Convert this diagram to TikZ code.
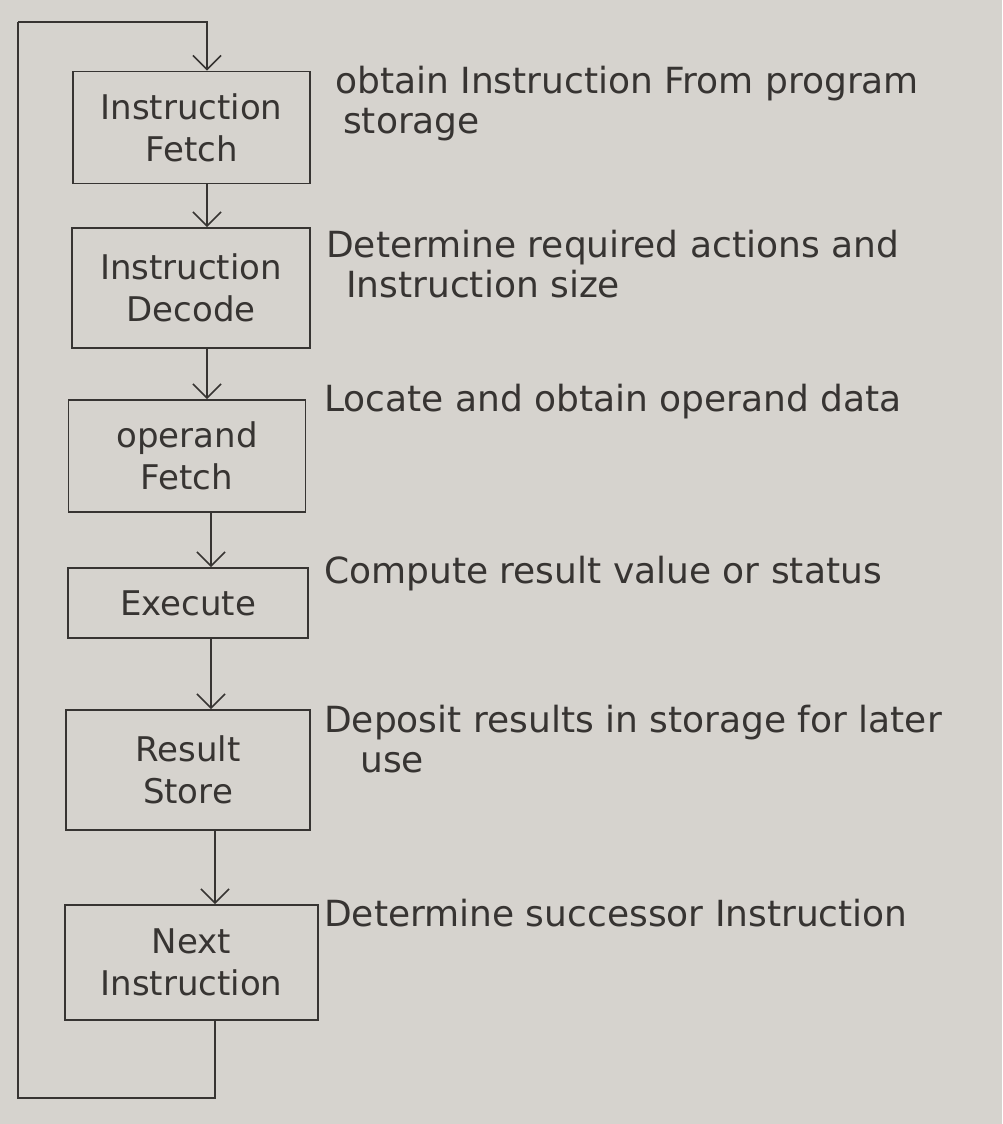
\documentclass[tikz,border=0pt]{standalone}
\usepackage{fontspec}
\setmainfont{DejaVu Sans}
\usetikzlibrary{arrows.meta}
\definecolor{paper}{RGB}{214,211,206}
\definecolor{ink}{RGB}{55,52,50}
\begin{document}
\begin{tikzpicture}[x=1pt,y=-1pt,
  box/.style={draw=ink, line width=1.8pt, align=center, text=ink, inner sep=0pt,
    font=\fontsize{34}{42}\selectfont},
  lbl/.style={anchor=west, align=left, text=ink, inner sep=0pt,
    font=\fontsize{36}{40}\selectfont},
  conn/.style={draw=ink, line width=1.8pt, -{Straight Barb[length=14pt,width=28pt,line width=1.6pt]}},
  wire/.style={draw=ink, line width=1.8pt}]
\fill[paper] (0,0) rectangle (1002,1124);
\useasboundingbox (0,0) rectangle (1002,1124);
% boxes
\node[box, minimum width=237pt, minimum height=112pt] (b1) at (191.5,127.5) {Instruction\\Fetch};
\node[box, minimum width=238pt, minimum height=120pt] (b2) at (191,288) {Instruction\\Decode};
\node[box, minimum width=237pt, minimum height=112pt] (b3) at (187,456) {operand\\Fetch};
\node[box, minimum width=240pt, minimum height=70pt] (b4) at (188,603) {Execute};
\node[box, minimum width=244pt, minimum height=120pt] (b5) at (188,770) {Result\\Store};
\node[box, minimum width=253pt, minimum height=115pt] (b6) at (191.5,962.5) {Next\\Instruction};
% arrow column coordinates
\coordinate (xa) at (207,0);
\coordinate (xb) at (211,0);
\coordinate (xc) at (215,0);
\coordinate (tl) at (18,22);
\coordinate (bl) at (18,1098);
\coordinate (tr) at (207,22);
\coordinate (br) at (215,1098);
% connectors
\draw[conn] (tl) -- (tr) -- (b1.north -| xa);
\draw[conn] (b1.south -| xa) -- (b2.north -| xa);
\draw[conn] (b2.south -| xa) -- (b3.north -| xa);
\draw[conn] (b3.south -| xb) -- (b4.north -| xb);
\draw[conn] (b4.south -| xb) -- (b5.north -| xb);
\draw[conn] (b5.south -| xc) -- (b6.north -| xc);
\draw[wire] (b6.south -| xc) -- (br) -- (bl) -- (tl);
% labels
\node[lbl] (l1) at (335,104) {obtain Instruction From program\\\hspace*{8pt}storage};
\node[lbl] (l2) at (326,264) {Determine required actions and\\\hspace*{20pt}Instruction size};
\node[lbl] (l3) at (324,402) {Locate and obtain operand data};
\node[lbl] (l4) at (324,574) {Compute result value or status};
\node[lbl] (l5) at (324,739) {Deposit results in storage for later\\\hspace*{36pt}use};
\node[lbl] (l6) at (324,913) {Determine successor Instruction};
\end{tikzpicture}
\end{document}
